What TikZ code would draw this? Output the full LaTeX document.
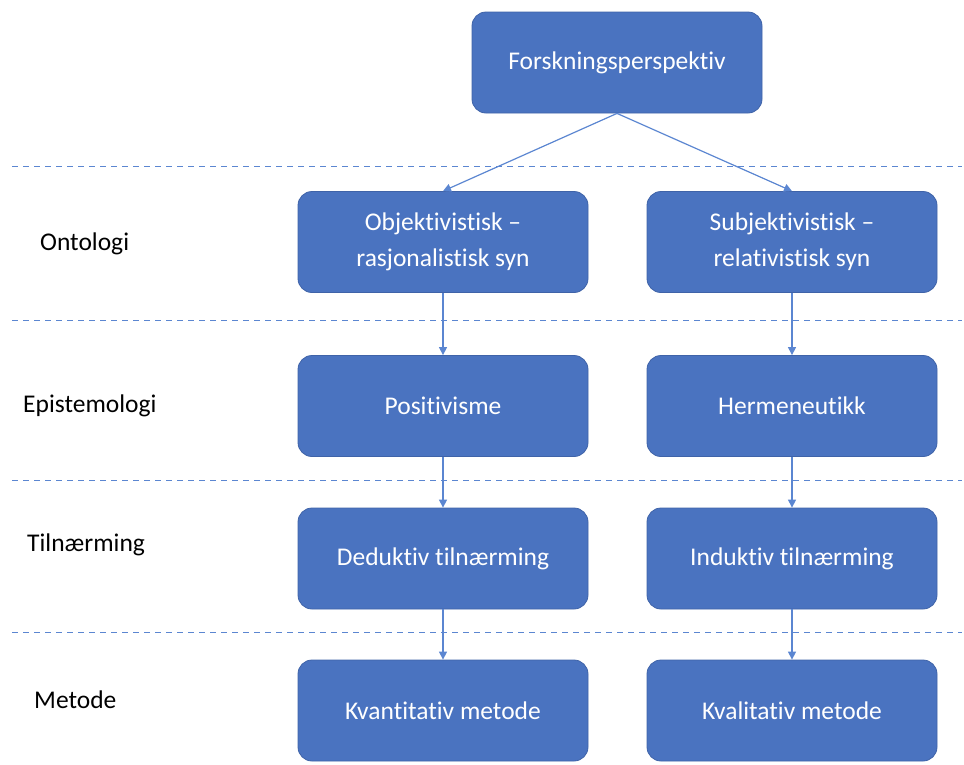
\documentclass[tikz,border=0pt]{standalone}
\usepackage{fontspec}
\setmainfont[Ligatures=NoCommon]{Carlito}
\usetikzlibrary{arrows.meta}
\definecolor{boxblue}{HTML}{4A73C0}
\definecolor{edgeblue}{HTML}{3F63A8}
\definecolor{lineblue}{HTML}{5B86D1}
\begin{document}
\begin{tikzpicture}[x=1pt,y=-1pt,
  box/.style={draw=edgeblue,line width=0.8pt,fill=boxblue,rounded corners=14pt,
    minimum width=290pt,minimum height=101pt,text=white,align=center,
    font=\fontsize{25.5}{36}\selectfont,inner sep=0pt},
  lbl/.style={anchor=west,font=\fontsize{25.5}{30}\selectfont,inner sep=0pt},
  sep/.style={draw=lineblue,line width=1pt,dash pattern=on 6pt off 5pt},
  conn/.style={draw=lineblue,line width=1.2pt,-{Triangle[length=8pt,width=8pt]}}]
\useasboundingbox (0,0) rectangle (964,764);
\node[box] (top) at (617,62.5) {Forskningsperspektiv};
\node[box] (o1) at (443,242) {Objektivistisk --\\rasjonalistisk syn};
\node[box] (o2) at (792,242) {Subjektivistisk --\\relativistisk syn};
\node[box] (e1) at (443,406) {Positivisme};
\node[box] (e2) at (792,406) {Hermeneutikk};
\node[box] (t1) at (443,558.5) {Deduktiv tilnærming};
\node[box] (t2) at (792,558.5) {Induktiv tilnærming};
\node[box] (m1) at (443,710.5) {Kvantitativ metode};
\node[box] (m2) at (792,710.5) {Kvalitativ metode};
\node[lbl] (lo) at (40,244) {Ontologi};
\node[lbl] (le) at (23,406) {Epistemologi};
\node[lbl] (lt) at (27,545) {Tilnærming};
\node[lbl] (lm) at (34,700) {Metode};
\coordinate (s1a) at (12,166); \coordinate (s1b) at (962,166);
\coordinate (s2a) at (12,320); \coordinate (s2b) at (962,320);
\coordinate (s3a) at (12,480); \coordinate (s3b) at (962,480);
\coordinate (s4a) at (12,632); \coordinate (s4b) at (962,632);
\draw[sep] (s1a) -- (s1b);
\draw[sep] (s2a) -- (s2b);
\draw[sep] (s3a) -- (s3b);
\draw[sep] (s4a) -- (s4b);
\draw[conn] (top.south) -- (o1.north);
\draw[conn] (top.south) -- (o2.north);
\draw[conn] (o1) -- (e1);
\draw[conn] (o2) -- (e2);
\draw[conn] (e1) -- (t1);
\draw[conn] (e2) -- (t2);
\draw[conn] (t1) -- (m1);
\draw[conn] (t2) -- (m2);
\end{tikzpicture}
\end{document}
